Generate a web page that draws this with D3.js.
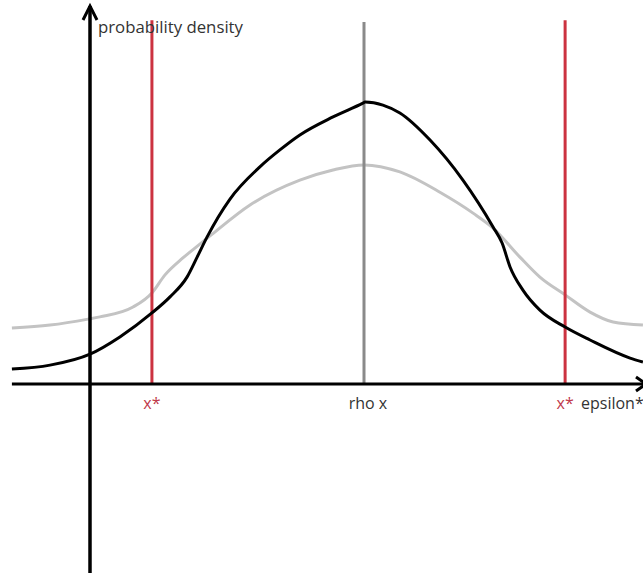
<!DOCTYPE html>
<html>
<head>
<meta charset="utf-8">
<script src="https://cdn.jsdelivr.net/npm/d3@7/dist/d3.min.js"></script>
<style>
  html, body { margin: 0; padding: 0; background: #fff; }
  svg { display: block; }
  text { font-family: "Open Sans", "Noto Sans", sans-serif; }
</style>
</head>
<body>
<div id="chart"></div>
<script>
// epsilon positions of the sampled curve points
const blackX = [-2.85, -1.46, 0.0, 1.09, 2.26, 2.92, 3.54, 3.91, 4.27, 5.11, 6.20, 6.93, 7.66, 8.87, 9.96, 10.04, 10.69, 11.31, 12.41, 13.61, 14.71, 15.04, 15.33, 15.80, 16.42, 17.34, 18.25, 19.71, 20.18];
const blackY = [0.053, 0.067, 0.106, 0.167, 0.252, 0.309, 0.379, 0.450, 0.521, 0.656, 0.770, 0.830, 0.883, 0.947, 0.996, 1.0, 0.989, 0.961, 0.865, 0.723, 0.557, 0.500, 0.415, 0.333, 0.262, 0.202, 0.156, 0.092, 0.078];

const grayX = [-2.85, -1.46, -0.07, 0.36, 1.57, 2.26, 2.73, 3.39, 4.01, 4.38, 5.84, 7.66, 8.87, 10.0, 11.31, 12.77, 13.98, 14.71, 15.69, 16.42, 17.34, 18.25, 19.09, 20.18];
const grayY = [0.199, 0.209, 0.230, 0.238, 0.273, 0.323, 0.386, 0.447, 0.496, 0.525, 0.635, 0.723, 0.759, 0.777, 0.752, 0.680, 0.606, 0.553, 0.450, 0.379, 0.316, 0.255, 0.220, 0.209];

// vertical markers: threshold x* on both sides and the centre rho x
const markerX = [2.26, 10.0, 17.34];
const markerLabels = ["x*", "rho x", "x*"];
const markerTop = [1.29, 1.284, 1.29];

const W = 643, H = 573;
const x = d3.scaleLinear().domain([0, 10]).range([90, 364]);
const y = d3.scaleLinear().domain([0, 1]).range([384, 102]);

const svg = d3.select("#chart").append("svg").attr("width", W).attr("height", H);

const line = d3.line()
  .x(d => x(d[0]))
  .y(d => y(d[1]))
  .curve(d3.curveMonotoneX);

const grayPts = grayX.map((v, i) => [v, grayY[i]]);
const blackPts = blackX.map((v, i) => [v, blackY[i]]);

// wide (light gray) density
svg.append("path").attr("d", line(grayPts))
  .attr("fill", "none").attr("stroke", "#c3c3c3").attr("stroke-width", 3)
  .attr("stroke-linejoin", "round");

// marker lines
const markerColor = ["#cc3340", "#8a8a8a", "#cc3340"];
markerX.forEach((v, i) => {
  svg.append("line")
    .attr("x1", x(v)).attr("x2", x(v))
    .attr("y1", y(markerTop[i])).attr("y2", y(0))
    .attr("stroke", markerColor[i]).attr("stroke-width", 3);
});

// narrow (black) density
svg.append("path").attr("d", line(blackPts))
  .attr("fill", "none").attr("stroke", "#000").attr("stroke-width", 3)
  .attr("stroke-linejoin", "round");

// axes
const x0 = x(-2.85), xEnd = 646;
svg.append("line").attr("x1", x0).attr("x2", xEnd).attr("y1", y(0)).attr("y2", y(0))
  .attr("stroke", "#000").attr("stroke-width", 3);
svg.append("polyline")
  .attr("points", `${xEnd - 10},${y(0) - 7} ${xEnd},${y(0)} ${xEnd - 10},${y(0) + 7}`)
  .attr("fill", "none").attr("stroke", "#000").attr("stroke-width", 3);

svg.append("line").attr("x1", x(0)).attr("x2", x(0)).attr("y1", 6).attr("y2", H)
  .attr("stroke", "#000").attr("stroke-width", 3.5);
svg.append("polyline")
  .attr("points", `${x(0) - 7},${20} ${x(0)},${6} ${x(0) + 7},${20}`)
  .attr("fill", "none").attr("stroke", "#000").attr("stroke-width", 3);

// labels
svg.append("text").attr("x", 98).attr("y", 33)
  .attr("font-size", 15.5).attr("fill", "#333")
  .attr("textLength", 145).attr("lengthAdjust", "spacingAndGlyphs")
  .text("probability density");

const labelColor = ["#c0394a", "#333", "#c0394a"];
markerX.forEach((v, i) => {
  svg.append("text")
    .attr("x", x(v) + (i === 1 ? 4 : 0)).attr("y", 409)
    .attr("text-anchor", "middle")
    .attr("font-size", 16).attr("fill", labelColor[i])
    .text(markerLabels[i]);
});

svg.append("text").attr("x", 581).attr("y", 409)
  .attr("font-size", 16).attr("fill", "#333")
  .text("epsilon*");
</script>
</body>
</html>
